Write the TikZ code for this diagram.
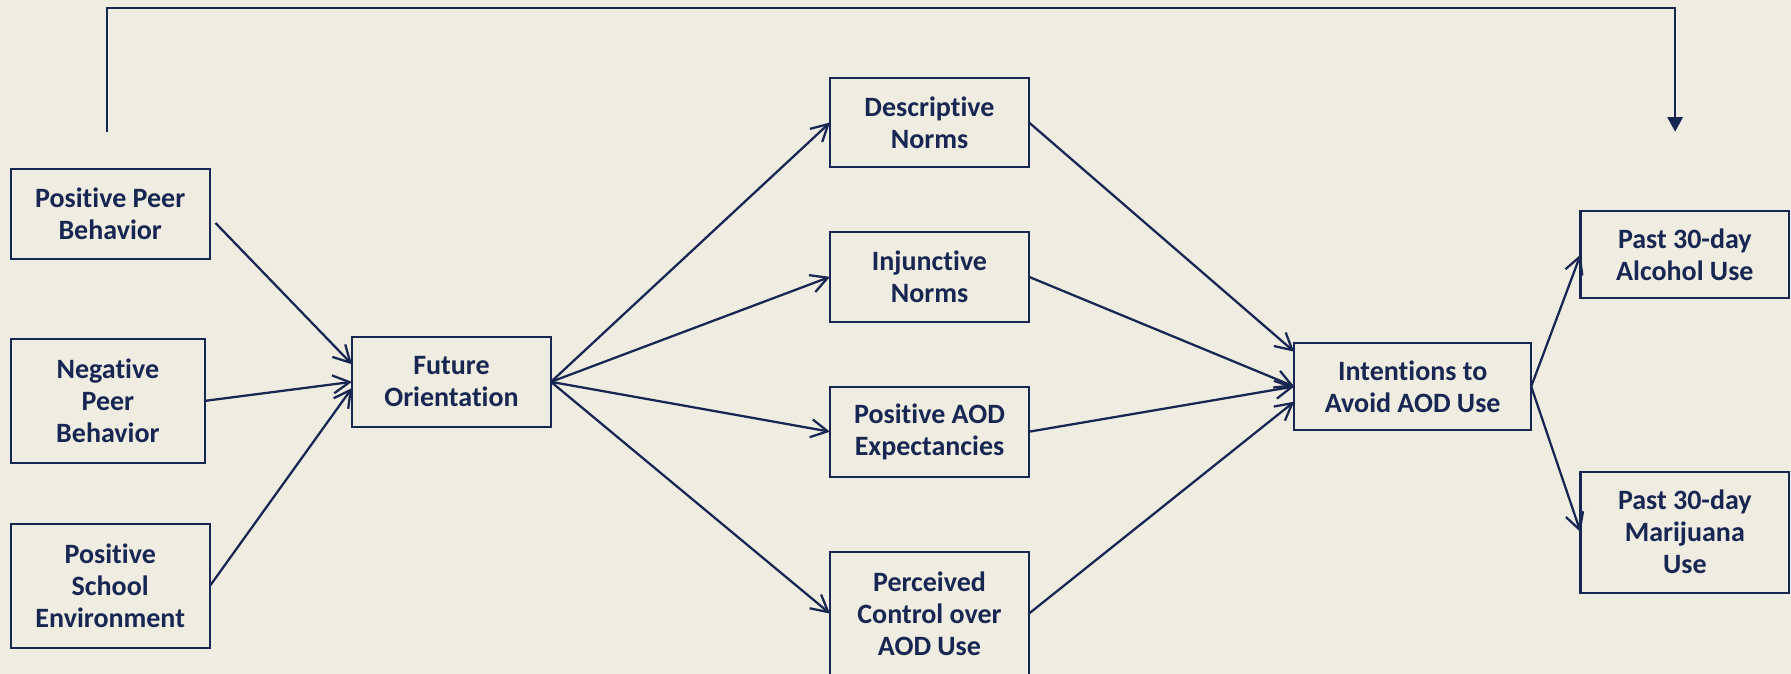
\documentclass[tikz,border=0pt]{standalone}
\usepackage{fontspec}
\setmainfont{Carlito}[Ligatures={NoCommon,NoRare,NoContextual},Contextuals=NoAlternate,RawFeature={-liga;-clig;-calt;-dlig}]
\usetikzlibrary{arrows.meta}
\definecolor{navy}{RGB}{24,38,82}
\definecolor{bgc}{RGB}{239,236,225}
\tikzset{
  box/.style={draw=navy, line width=1.7pt, text=navy, align=center,
    font=\fontsize{21}{24}\selectfont\bfseries, inner sep=0pt, outer sep=0pt},
  link/.style={draw=navy, line width=1.7pt, -{Straight Barb[length=12.5pt,width=13.5pt]}},
  fback/.style={draw=navy, line width=1.7pt, -{Triangle[length=11pt,width=11.5pt]}}
}
\begin{document}
\begin{tikzpicture}[x=0.75pt,y=-0.75pt]
\fill[bgc] (0,0) rectangle (1791,674);
\useasboundingbox (0,0) rectangle (1791,674);

\node[box, minimum width=149.25pt, minimum height=67.3pt] (PPB) at (110.2,214.2) {Positive Peer\\Behavior};
\node[box, minimum width=145.8pt, minimum height=92.8pt] (NPB) at (107.9,400.85) {Negative\\Peer\\Behavior};
\node[box, minimum width=149.25pt, minimum height=92.8pt] (PSE) at (110.2,586.2) {Positive\\School\\Environment};
\node[box, minimum width=149.25pt, minimum height=67.3pt] (FO) at (451.5,381.85) {Future\\Orientation};
\node[box, minimum width=149.25pt, minimum height=67.2pt] (DN) at (929.5,122.5) {Descriptive\\Norms};
\node[box, minimum width=149.25pt, minimum height=67.2pt] (IN) at (929.5,276.85) {Injunctive\\Norms};
\node[box, minimum width=149.25pt, minimum height=67.5pt] (PAE) at (929.5,431.7) {Positive AOD\\Expectancies};
\node[box, minimum width=149.25pt, minimum height=92.8pt] (PC) at (929.5,613.55) {Perceived\\Control over\\AOD Use};
\node[box, minimum width=177.75pt, minimum height=65.25pt] (INT) at (1412.7,386.5) {Intentions to\\Avoid AOD Use};
\node[box, minimum width=156.3pt, minimum height=65.25pt] (ALC) at (1684.8,254.5) {Past 30-day\\Alcohol Use};
\node[box, minimum width=156.3pt, minimum height=90.75pt] (MAR) at (1684.8,532.2) {Past 30-day\\Marijuana\\Use};

\coordinate (fbStart) at (106.8,132.3);
\coordinate (fbTop) at (106.8,7.7);
\coordinate (fbEnd) at (1675.1,131.7);
\draw[fback] (fbStart) -- (fbTop) -| (fbEnd);

\draw[link] ([shift={(5.8,8.8)}]PPB.east) -- ([shift={(0,-17.5)}]FO.west);
\draw[link] (NPB.east) -- (FO.west);
\draw[link] (PSE.east) -- ([shift={(0,6.2)}]FO.west);

\draw[link] (FO.east) -- (DN.west);
\draw[link] (FO.east) -- (IN.west);
\draw[link] (FO.east) -- (PAE.west);
\draw[link] (FO.east) -- (PC.west);

\draw[link] (DN.east) -- ([shift={(0,-34.8)}]INT.west);
\draw[link] (IN.east) -- (INT.west);
\draw[link] (PAE.east) -- (INT.west);
\draw[link] (PC.east) -- ([shift={(0,15.2)}]INT.west);

\draw[link] (INT.east) -- (ALC.west);
\draw[link] (INT.east) -- (MAR.west);
\end{tikzpicture}
\end{document}
